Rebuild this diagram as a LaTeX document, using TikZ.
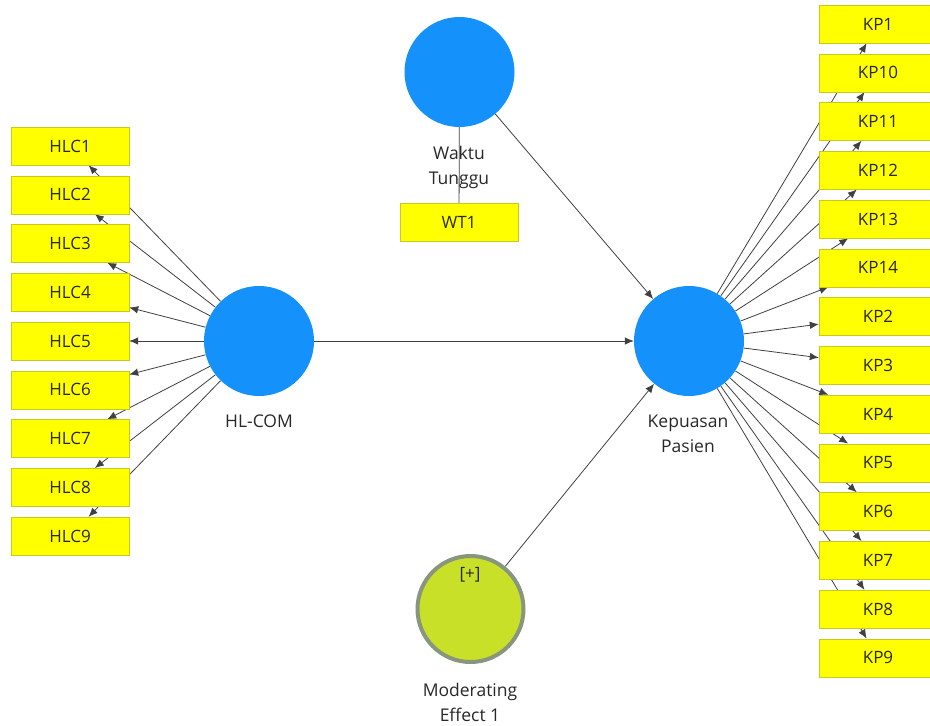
\documentclass[tikz,border=0pt]{standalone}
\usepackage{fontspec}
\setmainfont{Open Sans}
\usetikzlibrary{arrows.meta,backgrounds}
\definecolor{lvblue}{RGB}{20,145,250}
\definecolor{mvyellow}{RGB}{255,255,0}
\definecolor{mvborder}{RGB}{200,200,30}
\definecolor{modfill}{RGB}{200,225,40}
\definecolor{modring}{RGB}{135,150,125}
\definecolor{txtgray}{RGB}{40,40,40}

\begin{document}
\begin{tikzpicture}[y=-1pt,x=1pt,
	font=\fontsize{17}{20}\selectfont, text=txtgray,
	latent/.style={circle, fill=lvblue, minimum size=110pt, inner sep=0pt},
	indic/.style={rectangle, fill=mvyellow, draw=mvborder, minimum width=118pt, minimum height=38pt, inner sep=0pt},
	lvlabel/.style={align=center, font=\fontsize{17.5}{25}\selectfont},
	link/.style={draw=black!75, line width=0.8pt, -{Latex[length=9pt,width=7.5pt]}}]
	\useasboundingbox (0,0) rectangle (930,726);

	% latent variables
	\node[latent] (hl) at (259,341) {};
	\node[lvlabel] (hllabel) at (259,421) {HL-COM};
	\node[latent] (kp) at (689,341) {};
	\node[lvlabel] (kplabel) at (688,434) {Kepuasan\\Pasien};
	\node[latent] (wt) at (459.5,72) {};
	\node[lvlabel] (wtlabel) at (459,167) {Waktu\\Tunggu};
	\node[circle, fill=modfill, draw=modring, line width=4pt, minimum size=106pt, inner sep=0pt] (mod) at (470.5,609) {};
	\node (modplus) at (470,575) {[+]};
	\node[lvlabel] (modlabel) at (470,702) {Moderating\\Effect 1};

	% indicators
	\node[indic] (wt1) at (459,222) {WT1};
	\foreach \i in {1,...,9}
		\node[indic] (hlc\i) at (70,{146+48.75*(\i-1)}) {HLC\i};
	\foreach \lab [count=\k] in {1,10,11,12,13,14,2,3,4,5,6,7,8,9}
		\node[indic] (kp\lab) at (878,{24+48.75*(\k-1)}) {KP\lab};

	\begin{scope}[on background layer]
		\foreach \i in {1,...,9}
			\draw[link] (hl) -- (hlc\i);
		\foreach \lab in {1,10,11,12,13,14,2,3,4,5,6,7,8,9}
			\draw[link] (kp) -- (kp\lab);
		\draw[link] (hl) -- (kp);
		\draw[link] (wt) -- (kp);
		\draw[link] (mod) -- (kp);
		\draw[draw=black!75, line width=0.8pt] (wt) -- (wt1);
	\end{scope}
\end{tikzpicture}
\end{document}
